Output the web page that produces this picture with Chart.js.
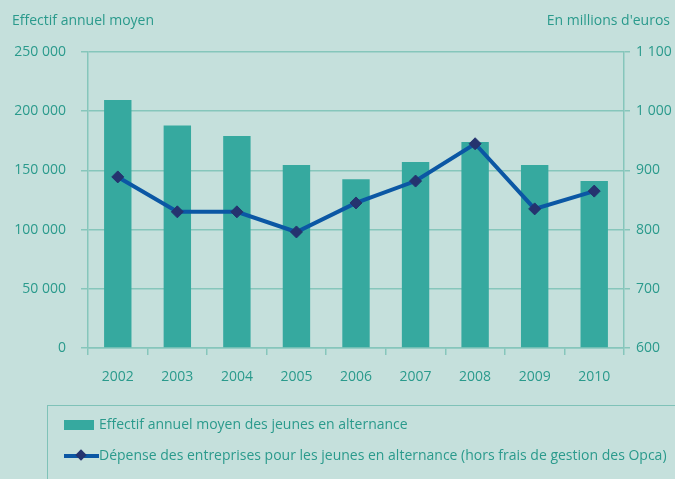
<!DOCTYPE html>
<html lang="fr">
<head>
<meta charset="utf-8">
<script src="https://cdn.jsdelivr.net/npm/chart.js@4.4.1/dist/chart.umd.min.js"></script>
<style>
  html, body { margin: 0; padding: 0; background: #c5e0dc; }
  body { width: 675px; height: 479px; position: relative; overflow: hidden; font-family: 'Open Sans', sans-serif; color: #2a9a8c; }
  #wrap { position: absolute; left: 0; top: 0; width: 675px; height: 479px; }
  .axisTitle { position: absolute; top: 10px; font-size: 14px; white-space: nowrap; }
  #legend { position: absolute; left: 47px; top: 405px; width: 660px; height: 100px; border: 1.5px solid #7fc2b8; }
  .item { position: absolute; left: 16px; font-size: 14px; white-space: nowrap; }
  .swatchBar { display: inline-block; width: 30px; height: 10px; background: #36a99f; vertical-align: middle; margin-right: 5px; }
  .swatchLine { display: inline-block; position: relative; width: 35px; height: 4px; background: #0b57a4; vertical-align: middle; }
  .swatchLine::after { content: ""; position: absolute; left: 13px; top: -3px; width: 8px; height: 8px; background: #25336f; transform: rotate(45deg); }
</style>
</head>
<body>
<div id="wrap"><canvas id="chart" width="675" height="479"></canvas></div>
<div class="axisTitle" style="left:12px;">Effectif annuel moyen</div>
<div class="axisTitle" style="right:5px;">En millions d'euros</div>
<div id="legend">
  <div class="item" style="top:8px;"><span class="swatchBar"></span>Effectif annuel moyen des jeunes en alternance</div>
  <div class="item" style="top:39px;"><span class="swatchLine"></span>Dépense des entreprises pour les jeunes en alternance (hors frais de gestion des Opca)</div>
</div>
<script>
// donnees
const annees = ["2002", "2003", "2004", "2005", "2006", "2007", "2008", "2009", "2010"];
const effectifs = [209500, 188000, 179000, 154500, 142500, 157000, 174000, 154500, 141000];
const depenses = [889, 830, 830, 796, 845, 882, 945, 835, 865];
const ticksGauche = [0, 50000, 100000, 150000, 200000, 250000];
const ticksDroite = [600, 700, 800, 900, 1000, 1100];

const vert = "#36a99f";
const bleu = "#0b57a4";
const marine = "#25336f";
const texte = "#2a9a8c";
const grille = "#86c6bb";

function espaces(v) {
  return String(v).replace(/\B(?=(\d{3})+(?!\d))/g, " ");
}

Chart.defaults.font.family = "'Open Sans', sans-serif";
Chart.defaults.font.size = 14;
Chart.defaults.color = texte;

const ctx = document.getElementById("chart").getContext("2d");
new Chart(ctx, {
  type: "bar",
  data: {
    labels: annees,
    datasets: [
      {
        type: "line",
        label: "Dépense des entreprises pour les jeunes en alternance (hors frais de gestion des Opca)",
        data: depenses,
        yAxisID: "y1",
        borderColor: bleu,
        borderWidth: 4,
        pointStyle: "rectRot",
        pointRadius: 6,
        pointBackgroundColor: marine,
        pointBorderColor: marine,
        pointBorderWidth: 1,
        tension: 0,
        order: 0,
      },
      {
        label: "Effectif annuel moyen des jeunes en alternance",
        data: effectifs,
        yAxisID: "y",
        backgroundColor: vert,
        barPercentage: 0.46,
        categoryPercentage: 1,
        order: 1,
      },
    ],
  },
  options: {
    responsive: false,
    animation: false,
    layout: { padding: { top: 52, left: 0, right: 0, bottom: 0 } },
    plugins: { legend: { display: false }, tooltip: { enabled: false } },
    scales: {
      x: {
        offset: true,
        grid: { offset: true, drawOnChartArea: false, drawTicks: true, tickLength: 7, color: grille, lineWidth: 1.5 },
        border: { color: grille, width: 1.5 },
        ticks: { padding: 14, color: texte },
        afterFit: (s) => { s.height = 131; },
      },
      y: {
        position: "left",
        min: 0,
        max: 250000,
        afterBuildTicks: (s) => { s.ticks = ticksGauche.map((v) => ({ value: v })); },
        grid: { color: grille, lineWidth: 1.5, tickLength: 7 },
        border: { color: grille, width: 1.5 },
        ticks: { padding: 15, color: texte, callback: (v) => espaces(v) },
        afterFit: (s) => { s.width = 88; },
      },
      y1: {
        position: "right",
        min: 600,
        max: 1100,
        afterBuildTicks: (s) => { s.ticks = ticksDroite.map((v) => ({ value: v })); },
        grid: { drawOnChartArea: false, color: grille, lineWidth: 1.5, tickLength: 6 },
        border: { color: grille, width: 1.5 },
        ticks: { padding: 6, color: texte, callback: (v) => espaces(v) },
        afterFit: (s) => { s.width = 51; },
      },
    },
  },
});
</script>
</body>
</html>
